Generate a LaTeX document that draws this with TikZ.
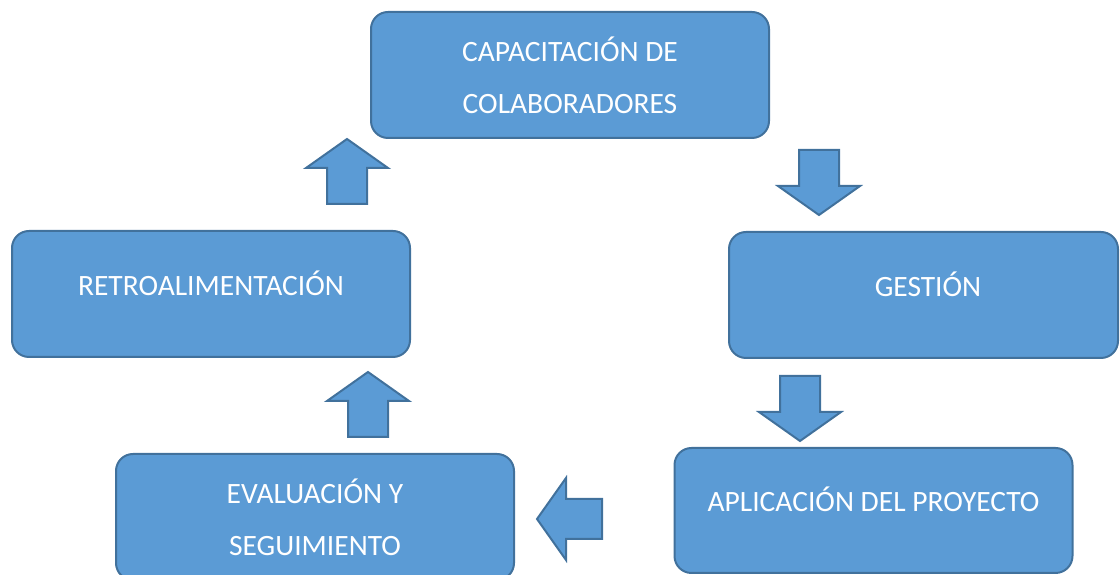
\documentclass[tikz,border=0pt]{standalone}
\usepackage{fontspec}
\setmainfont{Carlito}
\definecolor{cajaazul}{HTML}{5B9BD5}
\definecolor{bordeazul}{HTML}{41719C}
\tikzset{
  caja/.style={draw=bordeazul, fill=cajaazul, line width=2pt, rounded corners=17pt,
    minimum width=398pt, minimum height=126pt, inner sep=0pt, align=center,
    text=white, font=\fontsize{29.5}{52}\selectfont},
  unalinea/.style={text height=19pt, text depth=16pt},
  flechabloque/.pic={
    \draw[draw=bordeazul, fill=cajaazul, line width=2pt, line join=miter]
      (0,0) -- (41,-29) -- (20,-29) -- (20,-65) -- (-20,-65) -- (-20,-29) -- (-41,-29) -- cycle;
  }
}
\begin{document}
\begin{tikzpicture}[x=1pt, y=1pt]
  \useasboundingbox (0,0) rectangle (1120,575);
  \clip (0,0) rectangle (1120,575);
  \node[caja] (capacitacion) at (570,500) {CAPACITACIÓN DE\\COLABORADORES};
  \node[caja, unalinea, minimum width=389pt] (gestion) at (923.5,280) {\hspace*{9pt}GESTIÓN};
  \node[caja, unalinea] (retro) at (211,281) {RETROALIMENTACIÓN};
  \node[caja] (evaluacion) at (315,58) {EVALUACIÓN Y\\SEGUIMIENTO};
  \node[caja, unalinea, minimum height=125pt] (aplicacion) at (873.5,64.5) {APLICACIÓN DEL PROYECTO};
  % flechas del ciclo
  \pic[rotate=180] at (819,360) {flechabloque};
  \pic[rotate=180] at (800,134) {flechabloque};
  \pic[rotate=90] at (537,56) {flechabloque};
  \pic at (368,203) {flechabloque};
  \pic at (347,436) {flechabloque};
\end{tikzpicture}
\end{document}
